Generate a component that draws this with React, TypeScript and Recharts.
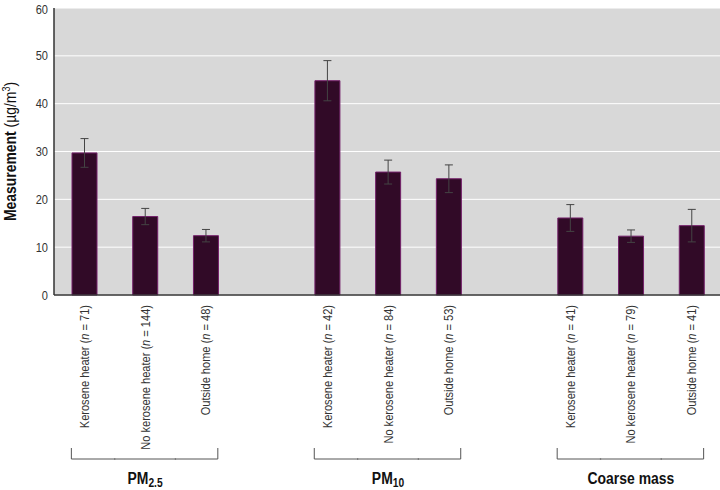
import { BarChart, Bar, XAxis, YAxis, CartesianGrid, ErrorBar } from 'recharts'

// no narrow font installed, so Liberation Sans is squeezed horizontally
const FONT = '"Liberation Sans", Arial, sans-serif'
const SQUEEZE = 0.82

const groups = ['PM2.5', 'PM10', 'Coarse mass']
const sources = ['Kerosene heater', 'No kerosene heater', 'Outside home']
const counts = [
  [71, 144, 48],
  [42, 84, 53],
  [41, 79, 41],
]
const means = [
  [29.7, 16.4, 12.4],
  [44.8, 25.7, 24.3],
  [16.1, 12.3, 14.5],
]
const errors = [
  [3.0, 1.7, 1.3],
  [4.2, 2.5, 2.9],
  [2.8, 1.3, 3.4],
]
const yTicks = [0, 10, 20, 30, 40, 50, 60]

type Row = {
  key: string
  source?: string
  n?: number
  value: number | null
  err?: number
  group?: string
  pos?: number
}

// one blank slot between groups keeps the wide gaps
const rows: Row[] = []
groups.forEach((g, gi) => {
  if (gi > 0) rows.push({ key: `gap${gi}`, value: null })
  sources.forEach((s, si) => {
    rows.push({
      key: `${g}-${si}`,
      source: s,
      n: counts[gi][si],
      value: means[gi][si],
      err: errors[gi][si],
      group: g,
      pos: si,
    })
  })
})

function GroupName({ x, y, name }: { x: number; y: number; name: string }) {
  const sub = name.startsWith('PM') ? name.slice(2) : ''
  const main = sub ? 'PM' : name
  return (
    <text
      transform={`translate(${x},${y}) scale(${SQUEEZE},1)`}
      textAnchor="middle"
      fontFamily={FONT}
      fontWeight="bold"
      fontSize={17}
      fill="#111"
    >
      <tspan>{main}</tspan>
      {sub && (
        <tspan dy={3} fontSize={12.5}>
          {sub}
        </tspan>
      )}
    </text>
  )
}

function SourceTick(props: any) {
  const { x, y, payload } = props
  const row = rows.find((r) => r.key === payload.value)
  if (!row || !row.source) return null
  const top = y + 8
  const bTop = y + 151
  const bBot = y + 162
  let bracket = null
  if (row.pos === 0) {
    bracket = <path d={`M${x - 13},${bTop} L${x - 13},${bBot} L${x + 31},${bBot}`} />
  } else if (row.pos === 1) {
    bracket = <path d={`M${x - 31},${bBot} L${x + 31},${bBot}`} />
  } else {
    bracket = <path d={`M${x - 31},${bBot} L${x + 12},${bBot} L${x + 12},${bTop}`} />
  }
  return (
    <g>
      <text
        transform={`translate(${x + 4.5},${top}) rotate(-90) scale(${SQUEEZE},1)`}
        textAnchor="end"
        fontFamily={FONT}
        fontSize={13.5}
        fill="#333"
      >
        {row.source} (<tspan fontStyle="italic">n</tspan> = {row.n})
      </text>
      <g stroke="#555" strokeWidth={1} fill="none">
        {bracket}
      </g>
      {row.pos === 1 && <GroupName x={x} y={y + 187} name={row.group as string} />}
    </g>
  )
}

function ValueTick(props: any) {
  const { x, y, payload } = props
  return (
    <text
      transform={`translate(${x},${y + 4.5}) scale(${SQUEEZE},1)`}
      textAnchor="end"
      fontFamily={FONT}
      fontSize={13.5}
      fill="#333"
    >
      {payload.value}
    </text>
  )
}

function YLabel(props: any) {
  const vb = props.viewBox || { y: 8, height: 287 }
  const cy = vb.y + vb.height / 2
  const cx = 16
  return (
    <text
      transform={`translate(${cx},${cy}) rotate(-90) scale(${SQUEEZE},1)`}
      textAnchor="middle"
      fontFamily={FONT}
      fontSize={17}
      fill="#111"
    >
      <tspan fontWeight="bold">Measurement</tspan>
      <tspan> (µg/m</tspan>
      <tspan dy={-6} fontSize={11}>
        3
      </tspan>
      <tspan dy={6}>)</tspan>
    </text>
  )
}

export default function App() {
  return (
    <div
      style={{
        position: 'absolute',
        left: 0,
        top: 0,
        width: 720,
        height: 490,
        overflow: 'hidden',
        background: '#fff',
      }}
    >
      <BarChart
        width={722}
        height={490}
        data={rows}
        margin={{ top: 8, right: 0, left: 0, bottom: 0 }}
        barSize={25}
      >
        <CartesianGrid vertical={false} stroke="#fff" strokeWidth={1} fill="#d8d8d8" fillOpacity={1} />
        <XAxis
          dataKey="key"
          interval={0}
          height={195}
          axisLine={{ stroke: '#333', strokeWidth: 1.5 }}
          tickLine={false}
          tickSize={0}
          tick={<SourceTick />}
        />
        <YAxis
          width={54}
          domain={[0, 60]}
          ticks={yTicks}
          axisLine={{ stroke: '#333', strokeWidth: 1.5 }}
          tickLine={false}
          tickSize={0}
          tickMargin={6}
          tick={<ValueTick />}
          label={<YLabel />}
        />
        <Bar dataKey="value" fill="#310a27" stroke="#74206a" strokeWidth={1} isAnimationActive={false}>
          <ErrorBar dataKey="err" direction="y" width={4} stroke="#444" strokeWidth={1} />
        </Bar>
      </BarChart>
    </div>
  )
}
